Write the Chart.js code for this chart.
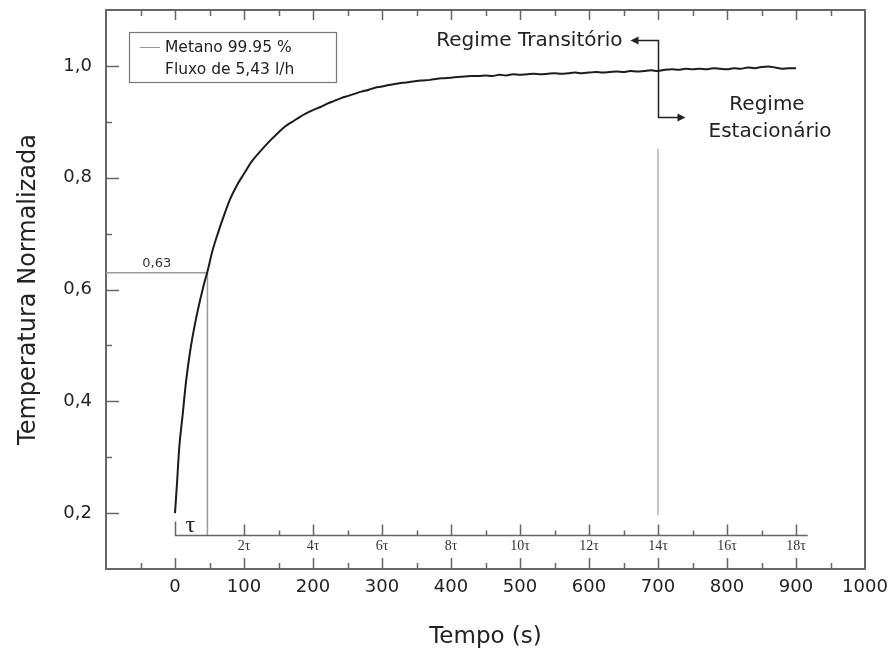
<!DOCTYPE html>
<html><head><meta charset="utf-8">
<script src="https://cdn.jsdelivr.net/npm/chart.js@4.4.0/dist/chart.umd.min.js"></script>
<style>html,body{margin:0;padding:0;background:#fff;} #wrap{width:891px;height:659px;}</style>
</head><body><div id="wrap"><canvas id="c" width="891" height="659"></canvas></div>
<script>
// ---- data ----
const timeSec = [0,3,6,11,16,22,31,42,47,54,62,70,80,90,
  100,110,120,130,140,150,160,170,180,190,200,210,220,230,240,250,260,270,280,290,300,
  310,320,330,340,350,360,370,380,390,400,410,420,430,440,450,460,470,480,490,500,
  510,520,530,540,550,560,570,580,590,600,610,620,630,640,650,660,670,680,690,700,
  710,720,730,740,750,760,770,780,790,800,810,820,830,840,850,860,870,880,890,900];
const normTemp = [0.200,0.255,0.315,0.375,0.435,0.490,0.551,0.610,0.632,0.668,0.700,0.729,0.762,0.787,
  0.807,0.827,0.842,0.856,0.869,0.881,0.892,0.900,0.908,0.915,0.921,0.926,0.932,0.937,0.942,0.946,0.950,0.954,0.957,0.961,0.963,
  0.966,0.968,0.970,0.971,0.973,0.974,0.975,0.977,0.978,0.979,0.980,0.981,0.982,0.982,0.983,0.982,0.984,0.983,0.985,0.984,
  0.985,0.986,0.985,0.986,0.987,0.986,0.987,0.988,0.987,0.988,0.989,0.988,0.989,0.990,0.989,0.991,0.990,0.991,0.992,0.991,
  0.993,0.994,0.993,0.995,0.994,0.995,0.994,0.996,0.995,0.994,0.996,0.995,0.997,0.996,0.998,0.999,0.997,0.995,0.996,0.996];
const xTickValues = [0,100,200,300,400,500,600,700,800,900,1000];
const yTickValues = [0.2,0.4,0.6,0.8,1.0];
const tauTickValues = [100,200,300,400,500,600,700,800,900];
const tauTickLabels = ['2τ','4τ','6τ','8τ','10τ','12τ','14τ','16τ','18τ'];
const tauSec = 47;          // time constant
const refLevel = 0.63;
const tauAxisLevel = 0.16;
const steadyTime = 700;
const steadyLine = [0.196, 0.852];
const legendLines = ['Metano 99.95 %', 'Fluxo de 5,43 l/h'];

const SANS = 'DejaVu Sans';
const SERIF = 'Liberation Serif';

const decor = {
  id: 'decor',
  afterDatasetsDraw(chart) {
    const ctx = chart.ctx, a = chart.chartArea;
    const xs = chart.scales.x, ys = chart.scales.y;
    ctx.save();
    // top & right frame
    ctx.strokeStyle = '#666'; ctx.lineWidth = 2;
    ctx.beginPath();
    ctx.moveTo(a.left, a.top); ctx.lineTo(a.right, a.top); ctx.lineTo(a.right, a.bottom);
    ctx.stroke();
    // inward ticks bottom & top
    ctx.lineWidth = 1.5;
    for (let v = -50; v < 1000; v += 50) {
      const px = Math.round(xs.getPixelForValue(v)) + 0.5;
      const major = v % 100 === 0;
      ctx.beginPath();
      ctx.moveTo(px, a.bottom); ctx.lineTo(px, a.bottom - (major ? 11 : 6));
      ctx.moveTo(px, a.top); ctx.lineTo(px, a.top + (major ? 10 : 6));
      ctx.stroke();
    }
    // inward ticks left
    for (let k = 2; k <= 10; k++) {
      const v = k / 10;
      const py = Math.round(ys.getPixelForValue(v)) + 0.5;
      const major = k % 2 === 0;
      ctx.beginPath();
      ctx.moveTo(a.left, py); ctx.lineTo(a.left + (major ? 13 : 6), py);
      ctx.stroke();
    }
    // tau axis line and ticks
    const ty = Math.round(ys.getPixelForValue(tauAxisLevel)) + 0.5;
    ctx.strokeStyle = '#666'; ctx.lineWidth = 1.5;
    ctx.beginPath();
    ctx.moveTo(xs.getPixelForValue(0), ty); ctx.lineTo(xs.getPixelForValue(917), ty);
    ctx.stroke();
    ctx.beginPath();
    const x0 = Math.round(xs.getPixelForValue(0)) + 0.5;
    ctx.moveTo(x0, ty); ctx.lineTo(x0, ty - 14);
    for (let k = 2; k <= 18; k++) {
      const px = Math.round(xs.getPixelForValue(k * 50)) + 0.5;
      ctx.moveTo(px, ty); ctx.lineTo(px, ty - (k % 2 === 0 ? 11 : 5));
    }
    ctx.stroke();
    // tau label
    ctx.fillStyle = '#222';
    ctx.font = '24px "' + SERIF + '"';
    ctx.textAlign = 'center'; ctx.textBaseline = 'alphabetic';
    ctx.fillText('τ', (xs.getPixelForValue(0) + xs.getPixelForValue(tauSec)) / 2 - 1, ty - 4);
    // 0,63 label
    ctx.font = '13px "' + SANS + '"';
    ctx.fillStyle = '#333';
    ctx.fillText('0,63', (a.left + xs.getPixelForValue(tauSec)) / 2, ys.getPixelForValue(refLevel) - 6);
    // legend box
    ctx.strokeStyle = '#777'; ctx.lineWidth = 1.2;
    ctx.strokeRect(129.5, 32.5, 207, 50);
    ctx.strokeStyle = '#999'; ctx.lineWidth = 1;
    ctx.beginPath(); ctx.moveTo(140, 47.5); ctx.lineTo(160, 47.5); ctx.stroke();
    ctx.fillStyle = '#222';
    ctx.font = '15.5px "' + SANS + '"';
    ctx.textAlign = 'left'; ctx.textBaseline = 'middle';
    ctx.fillText(legendLines[0], 165, 47.5);
    ctx.fillText(legendLines[1], 165, 69.5);
    // regime annotation
    const xv = Math.round(xs.getPixelForValue(steadyTime)) + 0.5;
    const yTop = 40.5, yBot = 117.5;
    ctx.strokeStyle = '#222'; ctx.lineWidth = 1.5;
    ctx.beginPath();
    ctx.moveTo(xv - 22, yTop); ctx.lineTo(xv, yTop); ctx.lineTo(xv, yBot); ctx.lineTo(xv + 20, yBot);
    ctx.stroke();
    ctx.fillStyle = '#222';
    ctx.beginPath();
    ctx.moveTo(xv - 28, yTop); ctx.lineTo(xv - 20, yTop - 4); ctx.lineTo(xv - 20, yTop + 4); ctx.closePath(); ctx.fill();
    ctx.beginPath();
    ctx.moveTo(xv + 27, yBot); ctx.lineTo(xv + 19, yBot - 4); ctx.lineTo(xv + 19, yBot + 4); ctx.closePath(); ctx.fill();
    ctx.font = '20px "' + SANS + '"';
    ctx.textAlign = 'right'; ctx.textBaseline = 'middle';
    ctx.fillText('Regime Transitório', xv - 36, yTop);
    ctx.textAlign = 'center';
    ctx.fillText('Regime', 767, 105);
    ctx.fillText('Estacionário', 770, 132);
    ctx.restore();
  }
};

new Chart(document.getElementById('c'), {
  type: 'line',
  data: {
    datasets: [
      {
        label: 'Metano 99.95 %',
        data: timeSec.map((t, i) => ({x: t, y: normTemp[i]})),
        borderColor: '#1c1c1c', borderWidth: 2, pointRadius: 0, cubicInterpolationMode: 'monotone', fill: false
      },
      {
        label: 'ref063',
        data: [{x: -100, y: refLevel}, {x: tauSec, y: refLevel}, {x: tauSec, y: tauAxisLevel}],
        borderColor: '#9a9a9a', borderWidth: 1.5, pointRadius: 0, tension: 0, fill: false
      },
      {
        label: 'steady',
        data: [{x: steadyTime, y: steadyLine[0]}, {x: steadyTime, y: steadyLine[1]}],
        borderColor: '#b0b0b0', borderWidth: 1.5, pointRadius: 0, tension: 0, fill: false
      }
    ]
  },
  options: {
    responsive: false, devicePixelRatio: 1, animation: false,
    layout: { padding: { top: 10, right: 26, left: 0, bottom: 0 } },
    plugins: { legend: { display: false }, tooltip: { enabled: false } },
    scales: {
      x: {
        type: 'linear', min: -100, max: 1000,
        afterBuildTicks: s => { s.ticks = xTickValues.map(v => ({value: v})); },
        afterFit: s => { s.height = 90; s.paddingLeft = 0; s.paddingRight = 0; },
        ticks: { font: { family: SANS, size: 18 }, color: '#222', padding: 8, maxRotation: 0, autoSkip: false,
          callback: v => String(v) },
        grid: { display: false, drawTicks: false },
        border: { display: true, color: '#666', width: 2 },
        title: { display: true, text: 'Tempo (s)', color: '#222', font: { family: SANS, size: 23 }, padding: { top: 0, bottom: 8 } }
      },
      y: {
        type: 'linear', min: 0.1, max: 1.1,
        afterBuildTicks: s => { s.ticks = yTickValues.map(v => ({value: v})); },
        afterFit: s => { s.width = 106; s.paddingTop = 0; s.paddingBottom = 0; },
        ticks: { font: { family: SANS, size: 18 }, color: '#222', padding: 14,
          callback: v => v.toFixed(1).replace('.', ',') },
        grid: { display: false, drawTicks: false },
        border: { display: true, color: '#666', width: 2 },
        title: { display: true, text: 'Temperatura Normalizada', color: '#222', font: { family: SANS, size: 24 }, padding: { top: 14, bottom: 0 } }
      },
      tau: {
        type: 'linear', axis: 'x', position: { y: tauAxisLevel }, min: -100, max: 1000,
        afterBuildTicks: s => { s.ticks = tauTickValues.map(v => ({value: v})); },
        afterFit: s => { s.paddingLeft = 0; s.paddingRight = 0; },
        ticks: { font: { family: SERIF, size: 14 }, color: '#333', padding: 2, maxRotation: 0, autoSkip: false,
          callback: (v, i) => tauTickLabels[i] },
        grid: { display: false, drawTicks: false },
        border: { display: false }
      }
    }
  },
  plugins: [decor]
});
</script>
</body></html>
